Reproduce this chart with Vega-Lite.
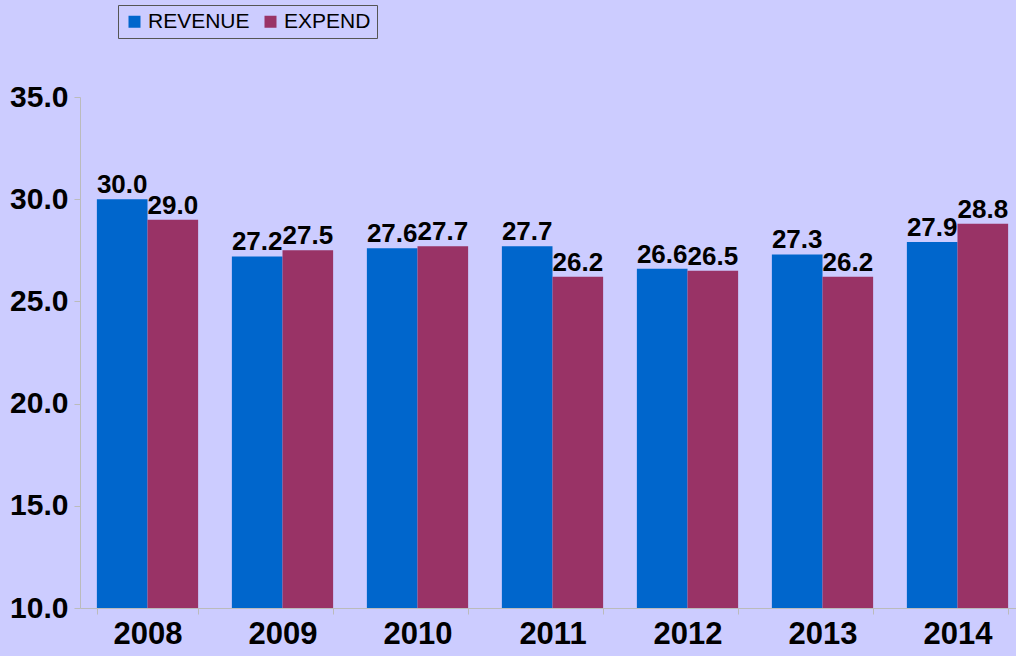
{
  "$schema": "https://vega.github.io/schema/vega-lite/v6.json",
  "autosize": {"type": "none"},
  "padding": {"left": 80, "top": 97, "right": 0, "bottom": 48},
  "width": 945,
  "height": 511,
  "background": "#CCCCFF",
  "config": {
    "view": {"stroke": null},
    "font": "Liberation Sans"
  },
  "data": {
    "values": [
      {"year": "2008", "series": "REVENUE", "value": 30.0},
      {"year": "2008", "series": "EXPEND", "value": 29.0},
      {"year": "2009", "series": "REVENUE", "value": 27.2},
      {"year": "2009", "series": "EXPEND", "value": 27.5},
      {"year": "2010", "series": "REVENUE", "value": 27.6},
      {"year": "2010", "series": "EXPEND", "value": 27.7},
      {"year": "2011", "series": "REVENUE", "value": 27.7},
      {"year": "2011", "series": "EXPEND", "value": 26.2},
      {"year": "2012", "series": "REVENUE", "value": 26.6},
      {"year": "2012", "series": "EXPEND", "value": 26.5},
      {"year": "2013", "series": "REVENUE", "value": 27.3},
      {"year": "2013", "series": "EXPEND", "value": 26.2},
      {"year": "2014", "series": "REVENUE", "value": 27.9},
      {"year": "2014", "series": "EXPEND", "value": 28.8}
    ]
  },
  "encoding": {
    "x": {
      "field": "year", "type": "nominal",
      "scale": {"paddingInner": 0.25, "paddingOuter": 0.125},
      "axis": {
        "title": null, "labelAngle": 0, "labelFont": "Liberation Sans", "labelFontSize": 31,
        "labelFontWeight": "bold", "labelColor": "#000000", "labelPadding": 5,
        "domainColor": "#BBBBBB", "tickColor": "#BBBBBB", "tickSize": 6, "tickBand": "extent"
      }
    },
    "xOffset": {"field": "series", "type": "nominal", "sort": ["REVENUE", "EXPEND"]},
    "y": {
      "field": "value", "type": "quantitative",
      "scale": {"domain": [10, 35], "zero": false, "nice": false},
      "axis": {
        "title": null, "values": [10, 15, 20, 25, 30, 35], "format": ".1f", "grid": false,
        "labelFont": "Liberation Sans", "labelFontSize": 30, "labelFontWeight": "bold",
        "labelColor": "#000000", "labelPadding": 6, "domainColor": "#BBBBBB",
        "tickColor": "#BBBBBB", "tickSize": 6
      }
    }
  },
  "layer": [
    {
      "mark": {"type": "bar", "clip": true},
      "encoding": {
        "color": {
          "field": "series", "type": "nominal",
          "scale": {"domain": ["REVENUE", "EXPEND"], "range": ["#0066CC", "#993366"]},
          "legend": {
            "title": null, "orient": "none", "direction": "horizontal",
            "legendX": 38, "legendY": -92,
            "symbolType": "square", "symbolSize": 144, "symbolStrokeWidth": 0,
            "labelFont": "Liberation Sans", "labelFontSize": 21, "labelColor": "#000000",
            "strokeColor": "#555555", "padding": 6, "columnPadding": 10, "labelOffset": 3
          }
        }
      }
    },
    {
      "mark": {"type": "text", "baseline": "bottom", "dy": -1, "fontSize": 26, "fontWeight": "bold", "font": "Liberation Sans", "color": "#000000"},
      "encoding": {
        "text": {"field": "value", "type": "quantitative", "format": ".1f"}
      }
    }
  ]
}
